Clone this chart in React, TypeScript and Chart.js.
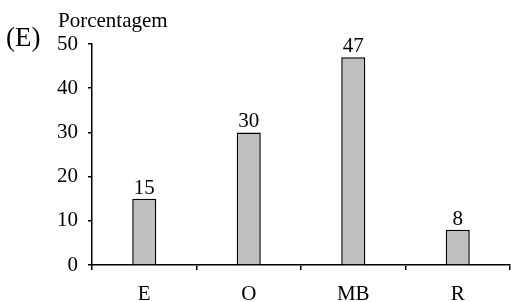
import React, { useEffect, useRef } from "react";
import { Chart, registerables } from "chart.js";

Chart.register(...registerables);

const categories = ["E", "O", "MB", "R"];
const values = [15, 30, 47, 8];
const yTicks = [0, 10, 20, 30, 40, 50];
const panelLabel = "(E)";
const axisTitle = "Porcentagem";

const FONT = "'Liberation Serif', 'Times New Roman', serif";

export default function App() {
  const ref = useRef<HTMLCanvasElement | null>(null);

  useEffect(() => {
    if (!ref.current) return;
    const labelsPlugin = {
      id: "texts",
      afterDatasetsDraw(chart: any) {
        const ctx = chart.ctx;
        ctx.save();
        ctx.fillStyle = "#000";
        ctx.font = `21px ${FONT}`;
        ctx.textAlign = "center";
        ctx.textBaseline = "alphabetic";
        const meta = chart.getDatasetMeta(0);
        meta.data.forEach((bar: any, i: number) => {
          ctx.fillText(String(values[i]), bar.x, bar.y - 5);
        });
        ctx.textAlign = "left";
        ctx.font = `21px ${FONT}`;
        ctx.fillText(axisTitle, 58, 27);
        ctx.font = `27px ${FONT}`;
        ctx.fillText(panelLabel, 6, 46);
        ctx.restore();
      },
    };

    const chart = new Chart(ref.current, {
      type: "bar",
      data: {
        labels: categories,
        datasets: [
          {
            data: values,
            backgroundColor: "#c0c0c0",
            borderColor: "#000",
            borderWidth: 1.5,
            barPercentage: 0.23,
            categoryPercentage: 1,
          },
        ],
      },
      options: {
        responsive: false,
        animation: false,
        layout: { padding: { top: 44, right: 1, left: 0, bottom: 0 } },
        plugins: {
          legend: { display: false },
          tooltip: { enabled: false },
        },
        scales: {
          x: {
            offset: true,
            grid: {
              offset: true,
              drawOnChartArea: false,
              drawTicks: true,
              tickLength: 5,
              color: "#000",
              lineWidth: 1.5,
            },
            border: { display: true, color: "#000", width: 1.5 },
            ticks: {
              color: "#000",
              font: { family: FONT, size: 21 },
              padding: 12,
            },
            afterFit: (s: any) => {
              s.height = 37;
            },
          },
          y: {
            min: 0,
            max: 50,
            afterBuildTicks: (s: any) => {
              s.ticks = yTicks.map((v) => ({ value: v }));
            },
            grid: {
              drawOnChartArea: false,
              drawTicks: true,
              tickLength: 4,
              color: "#000",
              lineWidth: 1.5,
            },
            border: { display: true, color: "#000", width: 1.5 },
            ticks: {
              color: "#000",
              font: { family: FONT, size: 21 },
              padding: 10,
            },
            afterFit: (s: any) => {
              s.width = 92;
            },
          },
        },
      },
      plugins: [labelsPlugin],
    });
    return () => chart.destroy();
  }, []);

  return (
    <div style={{ position: "fixed", left: 0, top: 0, width: 511, height: 302, background: "#fff" }}>
      <canvas ref={ref} width={511} height={302} style={{ width: 511, height: 302, display: "block" }} />
    </div>
  );
}
